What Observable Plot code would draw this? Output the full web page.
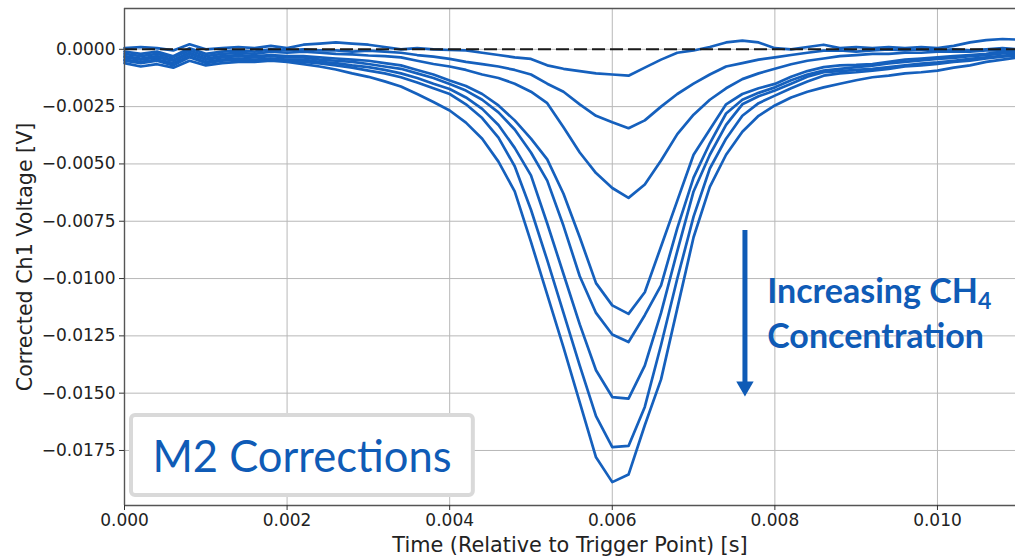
<!DOCTYPE html>
<html><head><meta charset="utf-8">
<script src="https://cdn.jsdelivr.net/npm/d3@7"></script>
<script src="https://cdn.jsdelivr.net/npm/@observablehq/plot@0.6"></script>
<style>html,body{margin:0;padding:0;background:#fff;overflow:hidden}</style>
</head><body><div id="chart"></div>
<script>
// Time axis (s)
const times = [0,0.0002,0.0004,0.0006,0.0008,0.0010,0.0012,0.0014,0.0016,0.0018,
  0.0020,0.0022,0.0024,0.0026,0.0028,0.0030,0.0032,0.0034,0.0036,0.0038,
  0.0040,0.0042,0.0044,0.0046,0.0048,0.0050,0.0052,0.0054,0.0056,0.0058,
  0.0060,0.0062,0.0064,0.0066,0.0068,0.0070,0.0072,0.0074,0.0076,0.0078,
  0.0080,0.0082,0.0084,0.0086,0.0088,0.0090,0.0092,0.0094,0.0096,0.0098,
  0.0100,0.0102,0.0104,0.0106,0.0108,0.0110];

// Corrected Ch1 voltage (V), one array per concentration (lowest to highest)
const c1 = [0.00005,0.0001,0.00005,-0.00005,0.00022,0,0.00005,0.0001,0.00005,0.00015,
  0.00005,0.0002,0.00025,0.0003,0.00025,0.0002,0.0001,0,0.00005,0,
  -0.00003,-0.00005,-0.00015,-0.00025,-0.00035,-0.00042,-0.0007,-0.00085,-0.00095,-0.00105,
  -0.0011,-0.00115,-0.0008,-0.00045,-0.00015,-0.00005,0.0001,0.0003,0.00038,0.0003,
  0.00005,0,0.0001,0.0002,0.00005,0.0001,0.00005,0.0001,0.00005,0.0001,
  0.00005,0.00015,0.0003,0.0004,0.00045,0.00042];
const c2 = [-0.0001,-0.0002,-0.0001,-0.0003,0.00005,-0.0002,-0.0001,-0.00005,-0.0001,0,
  -0.00005,0,-0.00005,-0.00005,-0.0001,-0.00006,-0.0001,-0.00015,-0.00025,-0.00032,
  -0.00042,-0.00055,-0.00065,-0.00075,-0.0009,-0.0011,-0.0015,-0.00185,-0.0024,-0.0029,
  -0.00318,-0.00344,-0.0031,-0.0025,-0.00195,-0.0015,-0.0011,-0.00075,-0.0006,-0.00045,
  -0.00035,-0.00025,-0.00015,-0.00006,-0.00005,-0.0001,-0.00005,0,-0.00005,0,
  -0.00005,0,-0.00005,0,0.00005,0];
const c3 = [-0.0002,-0.0003,-0.0002,-0.00035,-0.00005,-0.0003,-0.0002,-0.00015,-0.0002,-0.0001,
  -0.00015,-0.0001,-0.00015,-0.0002,-0.00022,-0.00027,-0.0003,-0.00035,-0.0005,-0.00064,
  -0.00075,-0.0009,-0.0011,-0.00125,-0.0015,-0.00185,-0.00235,-0.0034,-0.0045,-0.0054,
  -0.00605,-0.00648,-0.0059,-0.00485,-0.0037,-0.00285,-0.0022,-0.0017,-0.0013,-0.00105,
  -0.00085,-0.00065,-0.0005,-0.0004,-0.0003,-0.00025,-0.0002,-0.0002,-0.00015,-0.00015,
  -0.0001,-0.0001,-0.0001,-0.00005,-0.00005,-0.00005];
const c4 = [-0.0003,-0.0004,-0.0003,-0.00045,-0.00015,-0.0004,-0.0003,-0.00025,-0.0003,-0.00025,
  -0.0003,-0.0003,-0.00035,-0.0004,-0.00045,-0.0005,-0.0006,-0.0007,-0.0009,-0.0011,
  -0.00136,-0.0016,-0.00195,-0.00245,-0.0031,-0.0039,-0.0048,-0.0063,-0.0082,-0.0102,
  -0.01117,-0.01154,-0.0106,-0.0086,-0.0066,-0.0046,-0.0035,-0.0024,-0.00195,-0.0017,
  -0.00151,-0.0012,-0.00095,-0.00078,-0.0007,-0.00068,-0.00064,-0.00055,-0.00045,-0.0004,
  -0.00035,-0.0003,-0.00025,-0.0002,-0.0001,-0.00006];
const c5 = [-0.00035,-0.00045,-0.00035,-0.0005,-0.0002,-0.00045,-0.00035,-0.0003,-0.00035,-0.0003,
  -0.00035,-0.00035,-0.00045,-0.0005,-0.00055,-0.00064,-0.00075,-0.00085,-0.00105,-0.00125,
  -0.00151,-0.0018,-0.0022,-0.00275,-0.0035,-0.0045,-0.00573,-0.0077,-0.0099,-0.0115,
  -0.01244,-0.01277,-0.0116,-0.0103,-0.0078,-0.0056,-0.0041,-0.0028,-0.0022,-0.0019,
  -0.00166,-0.00135,-0.0011,-0.00093,-0.00085,-0.00078,-0.00071,-0.00062,-0.00055,-0.00048,
  -0.00042,-0.00038,-0.0003,-0.00025,-0.00018,-0.00013];
const c6 = [-0.00045,-0.00055,-0.00045,-0.0006,-0.0003,-0.00055,-0.00045,-0.0004,-0.00045,-0.0004,
  -0.00045,-0.00045,-0.00055,-0.0006,-0.0007,-0.00078,-0.0009,-0.00105,-0.00125,-0.0015,
  -0.00173,-0.0021,-0.0026,-0.0033,-0.0043,-0.0055,-0.0076,-0.0098,-0.012,-0.014,
  -0.01517,-0.01524,-0.0138,-0.0115,-0.0088,-0.0062,-0.0046,-0.0033,-0.0024,-0.00205,
  -0.0018,-0.0015,-0.0012,-0.001,-0.00095,-0.0009,-0.00085,-0.00078,-0.0007,-0.00062,
  -0.00057,-0.0005,-0.00042,-0.00035,-0.00028,-0.0002];
const c7 = [-0.0005,-0.0006,-0.0005,-0.0007,-0.00035,-0.0006,-0.0005,-0.00045,-0.0005,-0.00045,
  -0.0005,-0.00055,-0.00062,-0.0007,-0.0008,-0.00093,-0.00105,-0.00122,-0.00145,-0.0017,
  -0.00195,-0.0024,-0.003,-0.00385,-0.0051,-0.007,-0.0092,-0.0115,-0.0138,-0.016,
  -0.01735,-0.0173,-0.0156,-0.0129,-0.01,-0.0073,-0.0052,-0.0039,-0.0029,-0.00235,
  -0.00202,-0.0017,-0.0014,-0.00115,-0.00105,-0.001,-0.00093,-0.00085,-0.00075,-0.0007,
  -0.00064,-0.00055,-0.0005,-0.0004,-0.00032,-0.00027];
const c8 = [-0.0006,-0.00075,-0.00065,-0.0008,-0.0005,-0.0007,-0.0006,-0.00055,-0.00055,-0.0005,
  -0.00055,-0.00065,-0.00075,-0.00088,-0.00105,-0.0012,-0.0014,-0.00162,-0.00195,-0.0023,
  -0.00267,-0.0032,-0.0039,-0.0049,-0.0062,-0.0084,-0.0107,-0.013,-0.0154,-0.0178,
  -0.01888,-0.01855,-0.0164,-0.0144,-0.0113,-0.0082,-0.006,-0.0046,-0.0036,-0.0029,
  -0.00245,-0.0021,-0.00185,-0.00166,-0.0015,-0.00135,-0.00122,-0.00115,-0.00105,-0.001,
  -0.00093,-0.0008,-0.0007,-0.00055,-0.00045,-0.00035];

const xTicks = [0, 0.002, 0.004, 0.006, 0.008, 0.010];
const yTicks = [0, -0.0025, -0.005, -0.0075, -0.01, -0.0125, -0.015, -0.0175];
const xDomain = [0, 0.01096];
const yDomain = [-0.0199, 0.00178];

const xLabel = "Time (Relative to Trigger Point) [s]";
const yLabel = "Corrected Ch1 Voltage [V]";
const boxText = "M2 Corrections";
const noteLines = ["Increasing CH", "Concentration"];
const noteSub = "4";

const series = [c1, c2, c3, c4, c5, c6, c7, c8];
const data = series.flatMap((vals, k) => vals.map((v, i) => ({t: times[i], v, k})));

// annotation anchors (data units)
const box = [{x1: 0.000086, x2: 0.004291, y1: -0.015972, y2: -0.019461}];
const boxLabel = [{x: 0.000344, y: -0.018459, text: boxText}];
const arrowShaft = [{x: 0.007632, y1: -0.007906, y2: -0.014534}];
const arrowHead = [{x: 0.007632, y: -0.014709}];
const notes = [{x: 0.007906, y: -0.011067, text: noteLines[0]}, {x: 0.007906, y: -0.013030, text: noteLines[1]}];

const blue = "#1560bd";
const textBlue = "#0f5bb6";

const plot = Plot.plot({
  width: 1015, height: 557,
  marginLeft: 124, marginRight: 0, marginTop: 8, marginBottom: 52,
  style: {fontFamily: "'DejaVu Sans', sans-serif", fontSize: "17px", color: "#222", background: "#fff"},
  x: {domain: xDomain},
  y: {domain: yDomain},
  marks: [
    Plot.gridX(xTicks, {stroke: "#b8b8b8", strokeOpacity: 1, strokeWidth: 1}),
    Plot.gridY(yTicks, {stroke: "#b8b8b8", strokeOpacity: 1, strokeWidth: 1}),
    Plot.line(data, {x: "t", y: "v", z: "k", stroke: blue, strokeWidth: 2.7, curve: "linear"}),
    Plot.ruleY([0], {stroke: "#1a1a1a", strokeWidth: 2, strokeDasharray: "13,5"}),
    Plot.ruleX([xDomain[0]], {stroke: "#555", strokeWidth: 1.4}),
    Plot.ruleY([yDomain[0]], {stroke: "#555", strokeWidth: 1.4}),
    Plot.ruleY([yDomain[1]], {stroke: "#555", strokeWidth: 1.4}),
    Plot.axisX(xTicks, {tickFormat: ".3f", tickSize: 5, tickPadding: 3, label: null, stroke: "#333", fontSize: 17}),
    Plot.axisY(yTicks, {tickFormat: ".4f", tickSize: 5, tickPadding: 4, label: null, stroke: "#333", fontSize: 17}),
    Plot.text([xLabel], {frameAnchor: "bottom", dy: 40, textAnchor: "middle", lineAnchor: "middle", fontSize: 20.8, fill: "#222"}),
    Plot.text([yLabel], {frameAnchor: "left", dx: -99, rotate: -90, textAnchor: "middle", lineAnchor: "middle", fontSize: 20.6, fill: "#222"}),
    Plot.rect(box, {x1: "x1", x2: "x2", y1: "y1", y2: "y2", fill: "#fff", stroke: "#d9d9d9", strokeWidth: 4, rx: 4}),
    Plot.text(boxLabel, {x: "x", y: "y", text: "text", textAnchor: "start", lineAnchor: "bottom", fontSize: 43.5, fontFamily: "Lato", fill: textBlue}),
    Plot.ruleX(arrowShaft, {x: "x", y1: "y1", y2: "y2", stroke: textBlue, strokeWidth: 5}),
    Plot.dot(arrowHead, {x: "x", y: "y", symbol: "triangle2", r: 8.3, rotate: 180, fill: textBlue, stroke: "none"}),
    Plot.text(notes, {x: "x", y: "y", text: "text", textAnchor: "start", lineAnchor: "bottom", fontSize: 34, fontWeight: "bold", fontFamily: "Lato", fill: textBlue})
  ]
});
document.getElementById("chart").append(plot);
// subscript 4 in CH4
d3.select(plot).selectAll("text").filter(function() { return this.textContent === noteLines[0]; })
  .append("tspan").attr("font-size", "0.68em").attr("dy", "0.28em").text(noteSub);
</script></body></html>
